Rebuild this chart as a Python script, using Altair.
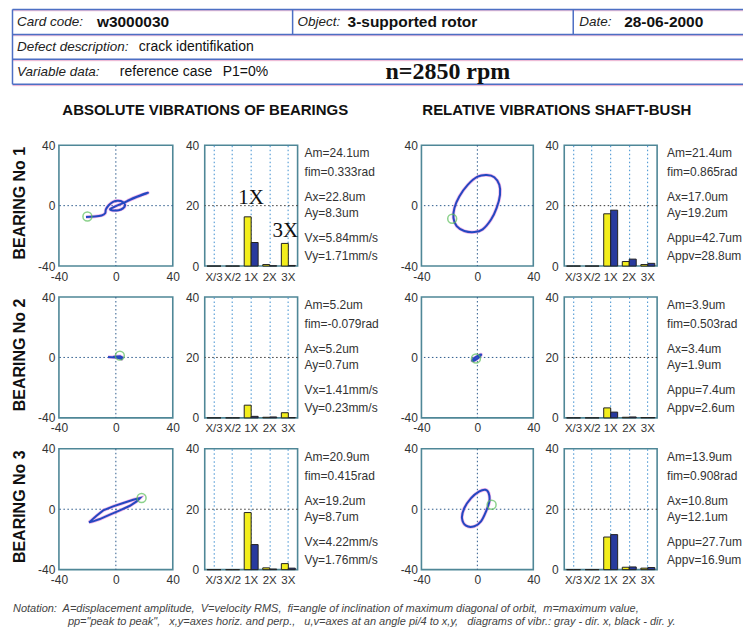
import altair as alt
import pandas as pd

# ---------------- data ----------------
bearings = ["BEARING No 1", "BEARING No 2", "BEARING No 3"]
harmonics = ["X/3", "X/2", "1X", "2X", "3X"]
directions = ["x", "y"]

# harmonic amplitudes (um): yellow = dir. x, blue = dir. y
abs_amp_x = [[0, 0, 16.3, 0.5, 7.5], [0, 0, 4.2, 0.2, 1.7], [0, 0, 18.9, 0.6, 2.0]]
abs_amp_y = [[0, 0, 7.8, 0.1, 0.2], [0, 0, 0.5, 0.3, 0.1], [0, 0, 8.3, 0.2, 0.5]]
rel_amp_x = [[0, 0, 17.3, 1.5, 0.5], [0, 0, 3.3, 0.2, 0.1], [0, 0, 10.8, 0.8, 0.5]]
rel_amp_y = [[0, 0, 18.5, 2.3, 0.9], [0, 0, 1.9, 0.3, 0.1], [0, 0, 11.6, 0.9, 0.7]]

abs_text = [
    ["Am=24.1um", "fim=0.333rad", "Ax=22.8um", "Ay=8.3um", "Vx=5.84mm/s", "Vy=1.71mm/s"],
    ["Am=5.2um", "fim=-0.079rad", "Ax=5.2um", "Ay=0.7um", "Vx=1.41mm/s", "Vy=0.23mm/s"],
    ["Am=20.9um", "fim=0.415rad", "Ax=19.2um", "Ay=8.7um", "Vx=4.22mm/s", "Vy=1.76mm/s"],
]
rel_text = [
    ["Am=21.4um", "fim=0.865rad", "Ax=17.0um", "Ay=19.2um", "Appu=42.7um", "Appv=28.8um"],
    ["Am=3.9um", "fim=0.503rad", "Ax=3.4um", "Ay=1.9um", "Appu=7.4um", "Appv=2.6um"],
    ["Am=13.9um", "fim=0.908rad", "Ax=10.8um", "Ay=12.1um", "Appu=27.7um", "Appv=16.9um"],
]

# orbits (um)
abs_orbit_x = [
    [-21, -15, -10, -7.5, -7, -5, -2, 1.5, 5, 6.5, 5, 2, -2, -4, 0, 5, 10, 15, 19, 22.5, 17, 12, 8],
    [-5.5, -3, 0, 2.5, 4, 4.5, 3, 0.5, -2],
    [-18.8, -13.6, -8.9, -1.9, 5.2, 12.2, 16.9, 14.6, 9.9, 2.8, -4.2, -11.3, -16],
]
abs_orbit_y = [
    [-7.5, -7.2, -6.5, -5, -2.5, 0.3, 2.5, 3.2, 2.4, 0.3, -1.8, -3, -3.2, -2.3, -0.3, 1.7, 3.8, 5.8, 7.2, 8.5, 6.8, 5, 3.2],
    [0.3, 0.2, 0, -0.5, -1, 0, 0.8, 0.6, 0.3],
    [-8.7, -4.3, -0.8, 1.9, 4.1, 6.3, 7.4, 5.2, 2.3, -0.8, -3.6, -6.5, -8.0],
]
rel_orbit_x = [
    [6.7, 12.1, 15.7, 16.2, 13.8, 9.8, 3.8, -2.1, -9.3, -14.8, -17.1, -16.4, -12.9, -6.9, 0.2],
    [-3.8, -2, 0.5, 2.6, 2.2, 0, -2.5],
    [5.7, 8.1, 8.6, 6.2, 2.6, -2.1, -8.1, -11.0, -9.3, -4.5, 1.4],
]
rel_orbit_y = [
    [20.3, 18.8, 13.8, 7.2, -1.5, -9.2, -15.7, -17.5, -16.8, -13.6, -8.1, -1.5, 6.1, 13.8, 19.2],
    [-2, -0.3, 1.2, 2, 1, -0.8, -2.2],
    [12.9, 10.7, 5.2, -1.4, -8.0, -11.3, -10.9, -5.8, 0.8, 7.4, 11.8],
]
abs_start = [(-20, -7.2), (2.8, 1.2), (18.1, 7.4)]
rel_start = [(-18, -8.7), (-1, -0.7), (10.2, 3.0)]

header_labels = ["Card code:", "Object:", "Date:", "Defect description:", "Variable data:"]
header_values = ["w3000030", "3-supported rotor", "28-06-2000", "crack identifikation",
                 "reference case", "P1=0%"]
speed_text = "n=2850 rpm"
section_titles = ["ABSOLUTE VIBRATIONS OF BEARINGS", "RELATIVE VIBRATIONS SHAFT-BUSH"]
footer_lines = [
    "Notation:\u00a0 A=displacement amplitude,\u00a0 V=velocity RMS,\u00a0 fi=angle of inclination of maximum diagonal of orbit,\u00a0 m=maximum value,",
    "pp=\"peak to peak\",\u00a0\u00a0 x,y=axes horiz. and perp.,\u00a0\u00a0 u,v=axes at an angle pi/4 to x,y,\u00a0\u00a0 diagrams of vibr.: gray - dir. x, black - dir. y.",
]

# ---------------- styling ----------------
SANS = "Liberation Sans"
SERIF = "Liberation Serif"
H = 121
BOX = alt.ViewBackground(stroke="#4f8797", strokeWidth=1.6, fill="white")
NOBOX = alt.ViewBackground(stroke="transparent", strokeWidth=0)
LINE_Y = [8, 27, 52, 68, 93, 111]
HEADER_DY = -137   # header sits above the first row of panels
FOOTER_DY = 152    # footer sits below the last row of panels
dummy = pd.DataFrame({"z": [0]})


def blank(w, h):
    return alt.Chart(dummy).mark_point(opacity=0, size=1).encode(
        x=alt.value(0), y=alt.value(0)).properties(width=w, height=h, view=NOBOX)


def txt(s, x, y, **style):
    base = dict(align="left", baseline="middle", font=SANS, fontSize=14, color="#111")
    base.update(style)
    return alt.Chart(dummy).mark_text(text=s, **base).encode(x=alt.value(x), y=alt.value(y))


def hline(x1, x2, y, color="#4d6fc4", w=1.5):
    return alt.Chart(dummy).mark_rule(color=color, strokeWidth=w).encode(
        x=alt.value(x1), x2=alt.value(x2), y=alt.value(y), y2=alt.value(y))


def vline(x, y1, y2, color="#4d6fc4", w=1.5):
    return alt.Chart(dummy).mark_rule(color=color, strokeWidth=w).encode(
        x=alt.value(x), x2=alt.value(x), y=alt.value(y1), y2=alt.value(y2))


def header_layers(oy):
    PINK = "#eab0d0"
    L = []
    for yy in [1, 26, 51, 76]:
        L.append(hline(4.5, 736, yy + 1.3 + oy, color=PINK, w=1))
    for yy in [1, 26, 51, 76]:
        L.append(hline(4.5, 736, yy + oy))
    L += [vline(4.5, 1 + oy, 76 + oy), vline(285, 1 + oy, 26 + oy), vline(566, 1 + oy, 26 + oy)]
    ITAL = dict(fontStyle="italic", fontSize=13.5, color="#222")
    BOLD = dict(fontWeight="bold", fontSize=15.5)
    REG = dict(fontSize=14)
    L += [
        txt(header_labels[0], 9, 13.5 + oy, **ITAL),
        txt(header_values[0], 89, 13.5 + oy, **BOLD),
        txt(header_labels[1], 290, 13.5 + oy, **ITAL),
        txt(header_values[1], 340, 13.5 + oy, **BOLD),
        txt(header_labels[2], 572, 13.5 + oy, **ITAL),
        txt(header_values[2], 617, 13.5 + oy, **BOLD),
        txt(header_labels[3], 9, 38.5 + oy, **ITAL),
        txt(header_values[3], 131, 38.5 + oy, **REG),
        txt(header_labels[4], 9, 64 + oy, **ITAL),
        txt(header_values[4], 112, 64 + oy, **REG),
        txt(header_values[5], 215, 64 + oy, **REG),
        txt(speed_text, 378, 64 + oy, font=SERIF, fontWeight="bold", fontSize=24),
        txt(section_titles[0], 205.5 - 8, 102 + oy, align="center", fontWeight="bold", fontSize=15),
        txt(section_titles[1], 557.5 - 8, 102 + oy, align="center", fontWeight="bold", fontSize=15),
    ]
    return L


def footer_layers(oy):
    FOOT = dict(fontStyle="italic", fontSize=11, color="#444")
    return [txt(footer_lines[0], 5, 8 + oy, **FOOT), txt(footer_lines[1], 60, 21 + oy, **FOOT)]


def label_panel(k):
    df = pd.DataFrame({"t": [bearings[k]]})
    lab = alt.Chart(df).mark_text(angle=270, fontSize=16, fontWeight="bold", font=SANS,
                                  color="#111", align="center", baseline="middle").encode(
        x=alt.value(12), y=alt.value(58), text="t:N")
    layers = [lab]
    if k == 0:
        layers += header_layers(HEADER_DY)
    if k == 2:
        layers += footer_layers(FOOTER_DY)
    return alt.layer(*layers).properties(width=51, height=H, view=NOBOX)


def orbit_panel(xs, ys, start, width, interp):
    df = pd.DataFrame({"x": xs, "y": ys, "i": list(range(len(xs)))})
    mk = pd.DataFrame({"x": [start[0]], "y": [start[1]]})
    sx = alt.Scale(domain=[-40, 40], nice=False, zero=False)
    sy = alt.Scale(domain=[-40, 40], nice=False, zero=False)
    ax = alt.Axis(values=[-40, 0, 40], grid=False, labelPadding=5, title=None, labelFlush=False,
                  labelExpr="'' + datum.value")
    ay = alt.Axis(values=[-40, 0, 40], grid=False, labelPadding=4, title=None,
                  labelExpr="'' + datum.value")
    vrule = alt.Chart(dummy).mark_rule(color="#2c5a8c", strokeDash=[1.5, 2.5], strokeWidth=1).encode(
        x=alt.X("z:Q", scale=sx, axis=ax))
    hrule = alt.Chart(dummy).mark_rule(color="#2c5a8c", strokeDash=[1.5, 2.5], strokeWidth=1).encode(
        y=alt.Y("z:Q", scale=sy, axis=ay))
    enc = dict(x=alt.X("x:Q", scale=sx, axis=ax), y=alt.Y("y:Q", scale=sy, axis=ay),
               order=alt.Order("i:Q"))
    halo = alt.Chart(df).mark_line(color="#e57ad8", strokeWidth=3.4, opacity=0.55,
                                   interpolate=interp).encode(**enc)
    line = alt.Chart(df).mark_line(color="#2448c0", strokeWidth=2,
                                   interpolate=interp).encode(**enc)
    marker = alt.Chart(mk).mark_point(shape="circle", filled=False, color="#5cbf5c", size=80,
                                      strokeWidth=1.5).encode(
        x=alt.X("x:Q", scale=sx, axis=ax), y=alt.Y("y:Q", scale=sy, axis=ay))
    return alt.layer(vrule, hrule, halo, line, marker).properties(width=width, height=H, view=BOX)


def bar_panel(ax_vals, ay_vals, annotate=False):
    rows = []
    for h, vx, vy in zip(harmonics, ax_vals, ay_vals):
        rows.append({"h": h, "d": "x", "v": vx})
        rows.append({"h": h, "d": "y", "v": vy})
    df = pd.DataFrame(rows)
    sx = alt.Scale(domain=harmonics, paddingInner=0.25, paddingOuter=0.125)
    sy = alt.Scale(domain=[0, 40], nice=False)
    axx = alt.Axis(grid=True, gridColor="#3d8fd0", gridDash=[1.5, 2.5], gridWidth=1,
                   labelAngle=0, labelFontSize=11.5, labelPadding=5, labelOverlap=False, title=None)
    axy = alt.Axis(values=[0, 20, 40], grid=False, labelPadding=6, title=None)
    grid20 = alt.Chart(pd.DataFrame({"g": [20]})).mark_rule(
        color="#333", strokeDash=[1.5, 2.5], strokeWidth=1).encode(y=alt.Y("g:Q", scale=sy, axis=axy))
    bars = alt.Chart(df).mark_bar(stroke="#222", strokeWidth=1).encode(
        x=alt.X("h:N", sort=harmonics, scale=sx, axis=axx),
        xOffset=alt.XOffset("d:N", scale=alt.Scale(domain=directions, paddingInner=0, paddingOuter=0)),
        y=alt.Y("v:Q", scale=sy, axis=axy),
        color=alt.Color("d:N", scale=alt.Scale(domain=directions, range=["#f3ee1c", "#283a9e"]),
                        legend=None),
    )
    layers = [grid20, bars]
    if annotate:
        a1 = alt.Chart(pd.DataFrame({"h": ["1X"], "v": [ax_vals[2]], "t": ["1X"]})).mark_text(
            font=SERIF, fontSize=21, color="#111", baseline="bottom", dy=-9).encode(
            x=alt.X("h:N", sort=harmonics, scale=sx, axis=axx), y=alt.Y("v:Q", scale=sy, axis=axy),
            text="t:N")
        a3 = alt.Chart(pd.DataFrame({"h": ["3X"], "v": [ax_vals[4]], "t": ["3X"]})).mark_text(
            font=SERIF, fontSize=21, color="#111", baseline="bottom", dy=-2, dx=-3).encode(
            x=alt.X("h:N", sort=harmonics, scale=sx, axis=axx), y=alt.Y("v:Q", scale=sy, axis=axy),
            text="t:N")
        layers += [a1, a3]
    return alt.layer(*layers).properties(width=93, height=H, view=BOX)


def text_panel(lines, w, x0):
    df = pd.DataFrame({"t": lines, "line": list(range(len(lines)))})
    layers = []
    for i, yy in enumerate(LINE_Y):
        layers.append(alt.Chart(df).transform_filter(alt.datum.line == i).mark_text(
            align="left", baseline="middle", fontSize=12, font=SANS, color="#333").encode(
            x=alt.value(x0), y=alt.value(yy), text="t:N"))
    return alt.layer(*layers).properties(width=w, height=H, view=NOBOX)


# ---------------- grid of panels ----------------
abs_interp = ["cardinal", "linear", "linear-closed"]
panels = []
for k in range(3):
    panels += [
        label_panel(k),
        orbit_panel(abs_orbit_x[k], abs_orbit_y[k], abs_start[k], 114, abs_interp[k]),
        blank(32, H),
        bar_panel(abs_amp_x[k], abs_amp_y[k], annotate=(k == 0)),
        text_panel(abs_text[k], 124, 7),
        orbit_panel(rel_orbit_x[k], rel_orbit_y[k], rel_start[k], 112, "cardinal-closed"),
        blank(31, H),
        bar_panel(rel_amp_x[k], rel_amp_y[k]),
        text_panel(rel_text[k], 86, 10),
    ]

chart = alt.concat(
    *panels, columns=9, spacing=alt.RowColnumber(row=31, column=0), bounds="flush"
).properties(
    padding=0, background="white"
).configure_view(stroke="transparent").configure_axis(
    labelFont=SANS, labelFontSize=12, labelColor="#333", ticks=False, domain=False
)

chart.save("out.html", embed_options={"renderer": "svg", "actions": False})
